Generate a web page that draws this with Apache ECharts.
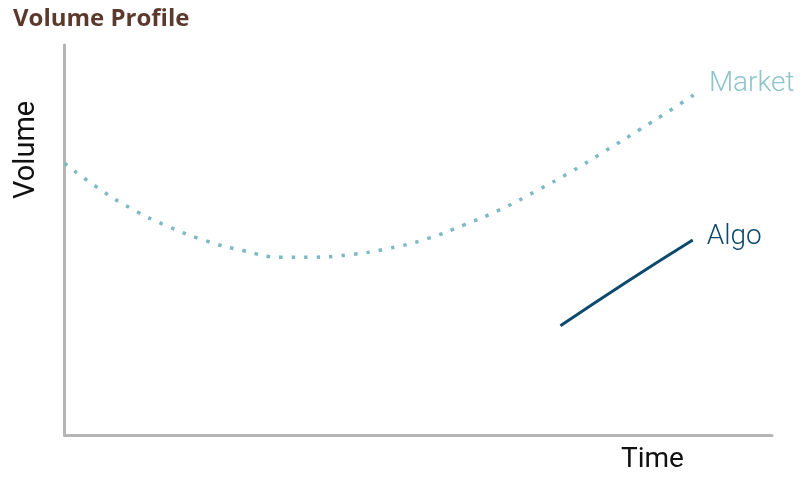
<!DOCTYPE html>
<html>
<head>
<meta charset="utf-8">
<script src="https://cdn.jsdelivr.net/npm/echarts@6/dist/echarts.min.js"></script>
<style>
  html, body { margin: 0; padding: 0; background: #ffffff; }
  #chart { width: 803px; height: 477px; }
</style>
</head>
<body>
<div id="chart"></div>
<script>
// Market volume curve over the session (time 0-100, volume 0-100)
const marketTime = [0, 4.7, 9.4, 14.5, 19.8, 25.2, 30.8, 34.5, 40.1, 45.7, 51.2, 56.5, 61.7, 66.7, 71.6, 76.4, 81.2, 86.0, 89.1];
const marketVolume = [69.7, 63.4, 58.1, 53.6, 49.9, 47.3, 45.6, 45.6, 46.2, 47.8, 50.3, 53.9, 57.9, 62.6, 67.5, 72.8, 78.2, 83.7, 87.4];

// Algo volume segment
const algoTime = [70.1, 79.5, 88.8];
const algoVolume = [28.0, 39.3, 50.0];

const seriesNames = ['Market', 'Algo'];
const titleText = 'Volume Profile';
const xName = 'Time';
const yName = 'Volume';

const zip = (xs, ys) => xs.map((x, i) => [x, ys[i]]);

const chart = echarts.init(document.getElementById('chart'), null, { renderer: 'canvas' });

const labelFont = 'Roboto, "Noto Sans", sans-serif';

chart.setOption({
  animation: false,
  backgroundColor: '#ffffff',
  title: {
    text: titleText,
    left: 8,
    top: 2,
    textStyle: { color: '#5b3a2d', fontSize: 24, fontWeight: 'bold', fontFamily: '"Open Sans", Roboto, sans-serif' }
  },
  grid: { left: 64.5, right: 31, top: 45, bottom: 42 },
  xAxis: {
    type: 'value',
    min: 0, max: 100,
    axisLine: { show: true, onZero: false, lineStyle: { color: '#b5b5b5', width: 3 } },
    axisTick: { show: false },
    axisLabel: { show: false },
    splitLine: { show: false }
  },
  yAxis: {
    type: 'value',
    min: 0, max: 100,
    axisLine: { show: true, onZero: false, lineStyle: { color: '#b5b5b5', width: 3 } },
    axisTick: { show: false },
    axisLabel: { show: false },
    splitLine: { show: false }
  },
  graphic: [
    {
      type: 'text',
      left: 621, top: 446,
      style: { text: xName, fill: '#111111', font: '28px ' + labelFont }
    },
    {
      type: 'text',
      x: 12, y: 199,
      rotation: Math.PI / 2,
      style: { text: yName, fill: '#111111', font: '29px ' + labelFont }
    }
  ],
  series: [
    {
      name: seriesNames[0],
      type: 'line',
      smooth: true,
      symbol: 'none',
      data: zip(marketTime, marketVolume),
      lineStyle: { color: '#7cb9c5', width: 3.5, type: [3.5, 9], cap: 'butt' },
      endLabel: {
        show: true,
        formatter: '{a}',
        color: '#8ec4cd',
        fontSize: 28,
        fontWeight: 300,
        fontFamily: labelFont,
        distance: 14,
        offset: [0, -10]
      }
    },
    {
      name: seriesNames[1],
      type: 'line',
      smooth: true,
      symbol: 'none',
      data: zip(algoTime, algoVolume),
      lineStyle: { color: '#0d4a6d', width: 3 },
      endLabel: {
        show: true,
        formatter: '{a}',
        color: '#0d4a6d',
        fontSize: 28,
        fontWeight: 300,
        fontFamily: labelFont,
        distance: 14,
        offset: [0, -3]
      }
    }
  ]
});
</script>
</body>
</html>
